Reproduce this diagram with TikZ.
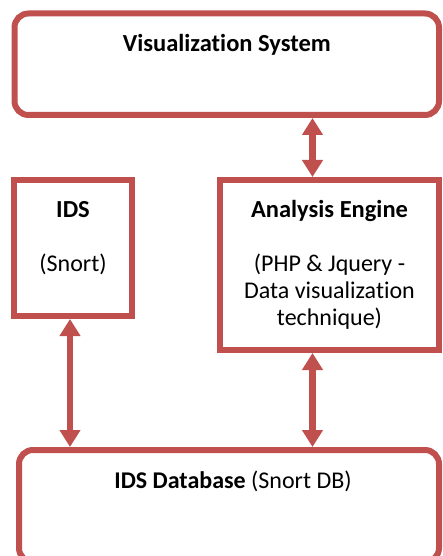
\documentclass[tikz,border=0pt]{standalone}
\usepackage{fontspec}
\setmainfont{Carlito}[Ligatures=NoCommon]
\usetikzlibrary{positioning,arrows.meta}

\definecolor{boxred}{RGB}{192,80,77}

\tikzset{
  block/.style={draw=boxred, line width=6pt, inner sep=0pt},
  roundblock/.style={block, rounded corners=14pt},
  boxtext/.style={inner sep=0pt, anchor=base, align=center,
    font=\fontsize{24}{27}\selectfont},
  boxtitle/.style={boxtext, font=\fontsize{24.5}{27}\selectfont\bfseries},
  link/.style={draw=boxred, line width=6.5pt,
    {Triangle[width=20pt,length=17pt]}-{Triangle[width=20pt,length=17pt]}},
}

\begin{document}
\begin{tikzpicture}[x=1pt,y=-1pt]

  \useasboundingbox (0,0) rectangle (442,556);
  \clip (0,0) rectangle (442,556);

  % Boxes
  \node[roundblock, minimum width=424.5pt, minimum height=101.5pt] (vis) at (226.75,64.25) {};
  \node[block, minimum width=118pt, minimum height=136pt] (ids) at (73,248) {};
  \node[block, minimum width=219pt, minimum height=170pt] (ana) at (329.5,265) {};
  \node[roundblock, minimum width=420pt, minimum height=112pt] (db) at (229,506) {};

  % Box texts
  \node[boxtitle] (vistext) at ([yshift=-41.5pt]vis.north) {Visualization System};
  \node[boxtitle] (idstext) at ([yshift=-40pt]ids.north) {IDS};
  \node[boxtext] (idssub) at ([yshift=-94pt]ids.north) {(Snort)};
  \node[boxtitle] (anatext) at ([yshift=-40pt]ana.north) {Analysis Engine};
  \node[boxtext] (anasub) at ([yshift=-148pt]ana.north) {(PHP \& Jquery -\\Data visualization\\technique)};
  \node[boxtext] (dbtext) at ([xshift=4pt,yshift=-41pt]db.north) {\textbf{IDS Database} (Snort DB)};

  % Connections
  \draw[link] ([xshift=-17pt]ana.north) -- ([xshift=-17pt]ana.north |- vis.south);
  \draw[link] ([xshift=-3pt]ids.south) -- ([xshift=-3pt]ids.south |- db.north);
  \draw[link] ([xshift=-17pt]ana.south) -- ([xshift=-17pt]ana.south |- db.north);

\end{tikzpicture}
\end{document}
